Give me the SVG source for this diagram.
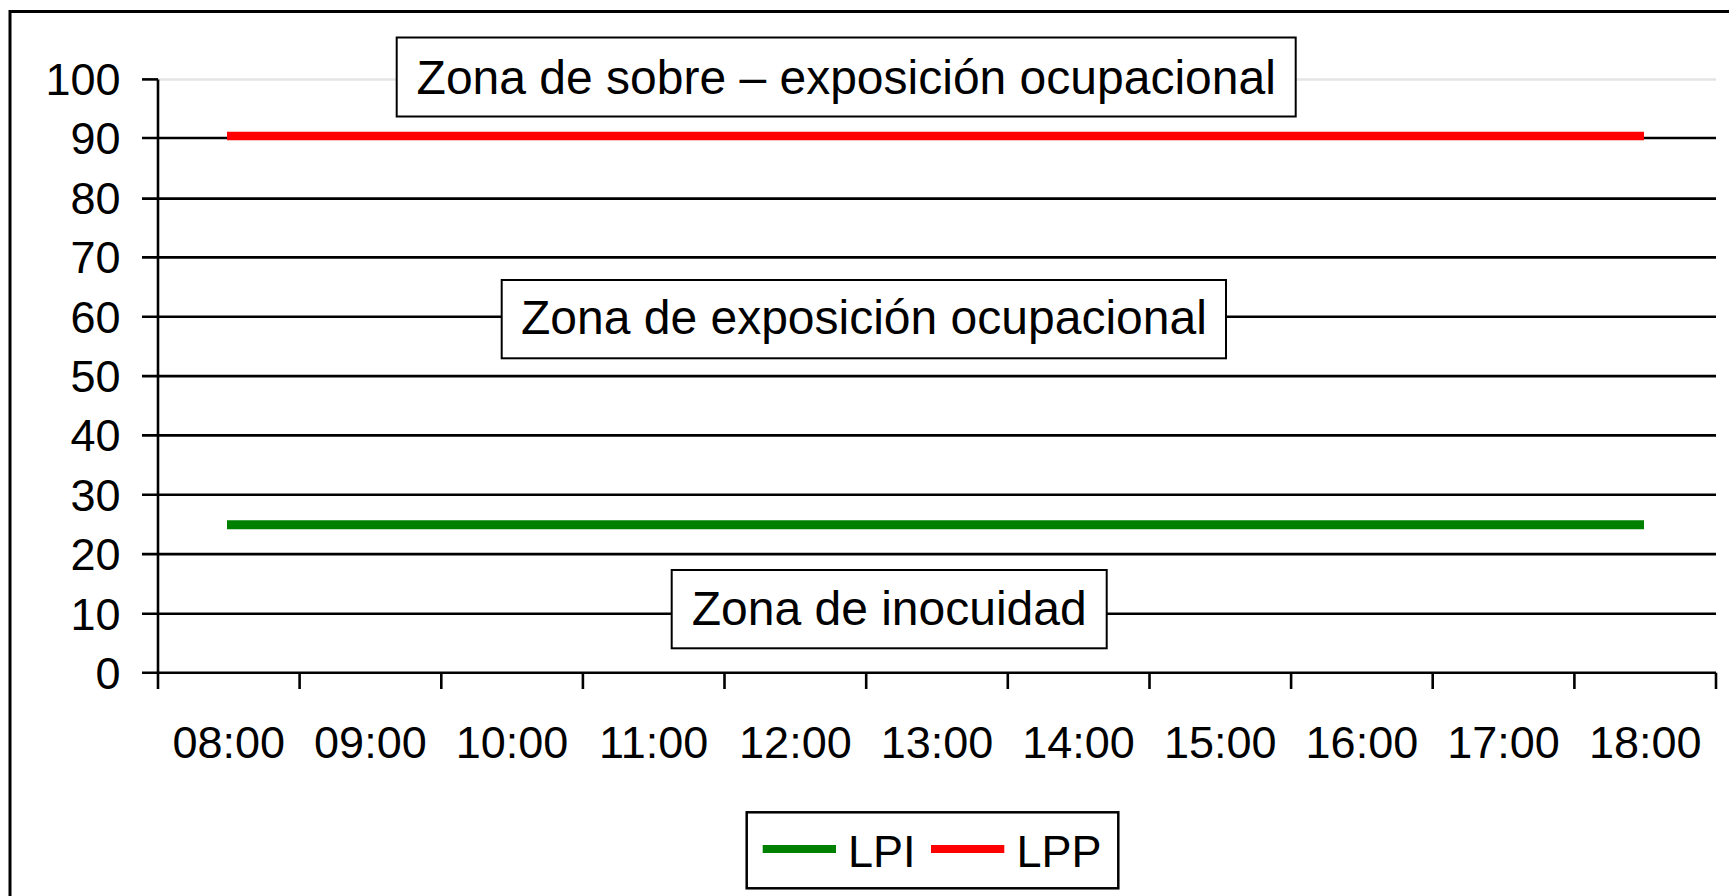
<svg xmlns="http://www.w3.org/2000/svg" width="1729" height="896" viewBox="0 0 1729 896">
<style>
text{font-family:"Liberation Sans",Arial,sans-serif;fill:#000}
.ax{font-size:45px}
.ya{text-anchor:end}
.xa{text-anchor:middle}
.bx{font-size:48px;text-anchor:middle}
.grid{stroke:#000;stroke-width:2.6}
.tick{stroke:#000;stroke-width:2.6}
.box{fill:#fff;stroke:#000;stroke-width:2}
</style>
<rect width="1729" height="896" fill="#fff"/>
<rect x="10" y="11.5" width="1760" height="940" fill="none" stroke="#000" stroke-width="3"/>
<g id="grid">
<line x1="158" y1="79.4" x2="1716" y2="79.4" stroke="#e4e4e4" stroke-width="2.5"/>
<line class="grid" x1="142" y1="138" x2="1716" y2="138"/>
<line class="grid" x1="142" y1="198.6" x2="1716" y2="198.6"/>
<line class="grid" x1="142" y1="257.4" x2="1716" y2="257.4"/>
<line class="grid" x1="142" y1="316.7" x2="1716" y2="316.7"/>
<line class="grid" x1="142" y1="376.1" x2="1716" y2="376.1"/>
<line class="grid" x1="142" y1="435.4" x2="1716" y2="435.4"/>
<line class="grid" x1="142" y1="494.7" x2="1716" y2="494.7"/>
<line class="grid" x1="142" y1="554.1" x2="1716" y2="554.1"/>
<line class="grid" x1="142" y1="613.8" x2="1716" y2="613.8"/>
<line class="grid" x1="142" y1="672.7" x2="1716" y2="672.7"/>
</g>
<g id="axes">
<line class="tick" x1="158" y1="79.4" x2="158" y2="689"/>
<line class="tick" x1="142" y1="79.4" x2="158" y2="79.4"/>
<line class="tick" x1="299.6" y1="672.7" x2="299.6" y2="689"/>
<line class="tick" x1="441.3" y1="672.7" x2="441.3" y2="689"/>
<line class="tick" x1="582.9" y1="672.7" x2="582.9" y2="689"/>
<line class="tick" x1="724.5" y1="672.7" x2="724.5" y2="689"/>
<line class="tick" x1="866.2" y1="672.7" x2="866.2" y2="689"/>
<line class="tick" x1="1007.8" y1="672.7" x2="1007.8" y2="689"/>
<line class="tick" x1="1149.5" y1="672.7" x2="1149.5" y2="689"/>
<line class="tick" x1="1291.1" y1="672.7" x2="1291.1" y2="689"/>
<line class="tick" x1="1432.7" y1="672.7" x2="1432.7" y2="689"/>
<line class="tick" x1="1574.4" y1="672.7" x2="1574.4" y2="689"/>
<line class="tick" x1="1716" y1="672.7" x2="1716" y2="689"/>
</g>
<g id="y-labels" class="ax ya">
<text class="ax ya" x="120.5" y="95">100</text>
<text class="ax ya" x="120.5" y="154">90</text>
<text class="ax ya" x="120.5" y="214">80</text>
<text class="ax ya" x="120.5" y="273">70</text>
<text class="ax ya" x="120.5" y="332.5">60</text>
<text class="ax ya" x="120.5" y="392">50</text>
<text class="ax ya" x="120.5" y="451">40</text>
<text class="ax ya" x="120.5" y="510.5">30</text>
<text class="ax ya" x="120.5" y="570">20</text>
<text class="ax ya" x="120.5" y="629.5">10</text>
<text class="ax ya" x="120.5" y="689">0</text>
</g>
<g id="x-labels">
<text class="ax xa" x="228.8" y="758">08:00</text>
<text class="ax xa" x="370.4" y="758">09:00</text>
<text class="ax xa" x="512.1" y="758">10:00</text>
<text class="ax xa" x="653.7" y="758">11:00</text>
<text class="ax xa" x="795.4" y="758">12:00</text>
<text class="ax xa" x="937" y="758">13:00</text>
<text class="ax xa" x="1078.6" y="758">14:00</text>
<text class="ax xa" x="1220.3" y="758">15:00</text>
<text class="ax xa" x="1361.9" y="758">16:00</text>
<text class="ax xa" x="1503.6" y="758">17:00</text>
<text class="ax xa" x="1645.2" y="758">18:00</text>
</g>
<g id="series">
<line id="LPP" x1="227" y1="136" x2="1644" y2="136" stroke="#ff0000" stroke-width="8.5"/>
<line id="LPI" x1="227" y1="524.7" x2="1644" y2="524.7" stroke="#008000" stroke-width="9"/>
</g>
<g id="zona-sobre">
<rect class="box" x="396.7" y="37.5" width="899" height="79"/>
<text class="bx" x="846.2" y="94">Zona de sobre – exposición ocupacional</text>
</g>
<g id="zona-exposicion">
<rect class="box" x="501.7" y="280" width="724.3" height="78.3"/>
<text class="bx" x="863.9" y="334">Zona de exposición ocupacional</text>
</g>
<g id="zona-inocuidad">
<rect class="box" x="671.7" y="570" width="435" height="78.3"/>
<text class="bx" x="889.2" y="625">Zona de inocuidad</text>
</g>
<g id="legend">
<rect x="746.7" y="812.3" width="371.6" height="76" fill="#fff" stroke="#000" stroke-width="2.5"/>
<line x1="762.7" y1="849" x2="836" y2="849" stroke="#008000" stroke-width="8"/>
<text class="ax" x="848" y="866.7">LPI</text>
<line x1="931" y1="849" x2="1004.3" y2="849" stroke="#ff0000" stroke-width="8"/>
<text class="ax" x="1016.5" y="866.7">LPP</text>
</g>
</svg>
